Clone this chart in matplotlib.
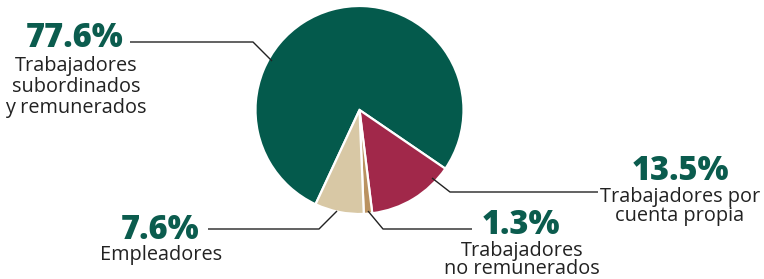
import matplotlib
matplotlib.use("Agg")
import matplotlib.pyplot as plt

# Data
categories = ["Trabajadores\nsubordinados\ny remunerados",
              "Trabajadores por\ncuenta propia",
              "Trabajadores\nno remunerados",
              "Empleadores"]
values = [77.6, 13.5, 1.3, 7.6]
pct_labels = ["77.6%", "13.5%", "1.3%", "7.6%"]
colors = ["#045A4C", "#A1284A", "#BA9260", "#D8C8A5"]

W, H = 764, 279
fig = plt.figure(figsize=(W / 100, H / 100), dpi=100)
ax = fig.add_axes([0, 0, 1, 1])

FONT = "Open Sans"
GREEN_TXT = "#0B5C4E"
DARK = "#222222"

def py(y):
    return H - y

ax.pie(values, colors=colors, startangle=245.0, counterclock=False,
       center=(359.5, py(110)), radius=104,
       wedgeprops=dict(edgecolor="white", linewidth=1.6))
ax.set_xlim(0, W)
ax.set_ylim(0, H)
ax.set_aspect("auto")
ax.axis("off")

# label layout: pct center, text block center, line spacing, leader points
layout = [
    dict(px=75, pyc=38, ty=87, ls=1.05,
         line=[(130, 42), (253, 42), (272, 61)]),
    dict(px=680, pyc=171, ty=206.5, ls=0.95,
         line=[(598, 192), (450, 192), (432, 178)]),
    dict(px=521, pyc=225, ty=260, ls=0.88,
         line=[(472, 229), (383, 229), (368, 211)]),
    dict(px=160, pyc=230, ty=255, ls=1.0,
         line=[(208, 229), (319, 229), (337, 211)]),
]
tx_centers = [76, 680, 522, 161]

for cat, pct, lay, tx in zip(categories, pct_labels, layout, tx_centers):
    ax.text(lay["px"], py(lay["pyc"]), pct, ha="center", va="center",
            fontsize=23.5, fontweight="heavy", family=FONT, color=GREEN_TXT)
    ax.text(tx, py(lay["ty"]), cat, ha="center", va="center",
            multialignment="center", linespacing=lay["ls"],
            fontsize=14.3, family=FONT, color=DARK)
    xs = [p[0] for p in lay["line"]]
    ys = [py(p[1]) for p in lay["line"]]
    ax.plot(xs, ys, color=DARK, linewidth=1.0, solid_capstyle="butt")

fig.savefig("out.png", dpi=100)
